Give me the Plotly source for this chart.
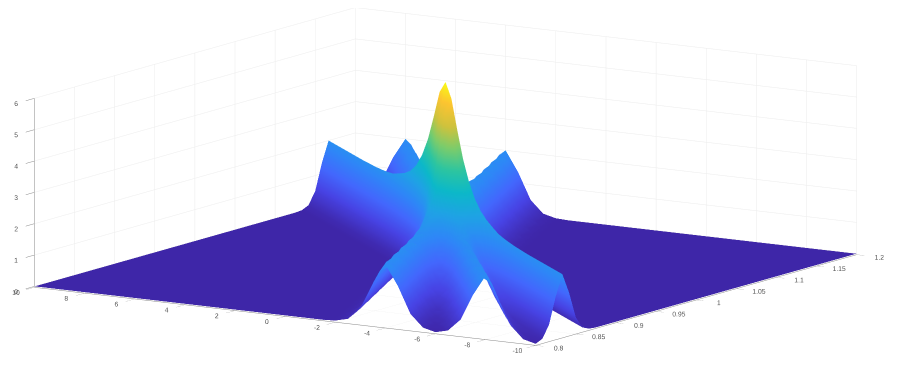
import plotly.graph_objects as go

x_values = [10 - i * 0.5 for i in range(41)]
y_steps = list(range(-24, 25))
y_values = [1 + k / 120 for k in y_steps]

x_ticks = [-10, -8, -6, -4, -2, 0, 2, 4, 6, 8, 10]
y_ticks = [0.8, 0.85, 0.9, 0.95, 1, 1.05, 1.1, 1.15, 1.2]
y_tick_text = ["0.8", "0.85", "0.9", "0.95", "1", "1.05", "1.1", "1.15", "1.2"]
z_ticks = [0, 1, 2, 3, 4, 5, 6]

# heights, one list per y row (x from -10 to 10)
row_00 = [0]*16 + [.06, .36, 1.53, 4.05, 6.00, 4.05, 1.53, .36, .06] + [0]*16
row_00h = [0]*16 + [.01, .13, .70, 2.27, 4.93, 5.58, 3.11, 1.09, .23, .03] + [0]*15
row_01 = [0]*17 + [.05, .32, 1.21, 3.20, 5.17, 4.69, 2.44, .81, .17, .02] + [0]*14
row_01h = [0]*17 + [.02, .14, .65, 1.98, 3.86, 4.70, 3.86, 1.98, .65, .14, .02] + [0]*13
row_02 = [0]*17 + [.01, .07, .39, 1.27, 2.77, 3.85, 4.00, 3.25, 1.74, .58, .13, .02] + [0]*12
row_02h = [0]*18 + [.04, .24, .81, 2.04, 3.05, 3.44, 3.37, 2.81, 1.59, .55, .12, .02] + [0]*11
row_03 = [0]*18 + [.02, .12, .53, 1.47, 2.53, 2.82, 3.02, 2.82, 2.53, 1.47, .53, .12, .02] + [0]*10
row_03h = [0]*18 + [.01, .07, .35, 1.06, 2.14, 2.43, 2.53, 2.65, 2.41, 2.35, 1.42, .52, .12, .02] + [0]*9
row_04 = [0]*19 + [.04, .23, .75, 1.74, 2.26, 2.06, 2.38, 2.25, 2.10, 2.23, 1.39, .51, .12, .02] + [0]*8
row_04h = [0]*19 + [.02, .12, .51, 1.37, 2.12, 1.86, 1.88, 2.24, 1.88, 1.86, 2.12, 1.37, .51, .12, .02] + [0]*7
row_05 = [0]*19 + [.01, .07, .35, 1.02, 1.95, 1.90, 1.48, 1.92, 2.07, 1.53, 1.70, 2.07, 1.36, .51, .12, .02] + [0]*6
row_05h = [0]*20 + [.04, .23, .74, 1.68, 1.98, 1.37, 1.37, 2.00, 1.80, 1.25, 1.58, 2.04, 1.35, .51, .12, .02] + [0]*5
row_06 = [0]*20 + [.02, .12, .51, 1.35, 2.02, 1.47, 1.02, 1.47, 2.04, 1.47, 1.02, 1.47, 2.02, 1.35, .51, .12, .02] + [0]*4
row_06h = [0]*20 + [.01, .07, .35, 1.02, 1.91, 1.71, .97, .97, 1.71, 1.93, 1.14, .86, 1.42, 2.01, 1.35, .51, .12, .02] + [0]*3
row_07 = [0]*21 + [.04, .23, .74, 1.67, 1.92, 1.09, .70, 1.09, 1.92, 1.69, .86, .74, 1.39, 2.00, 1.35, .51, .12, .02] + [0]*2
row_07h = [0]*21 + [.02, .12, .51, 1.35, 2.00, 1.37, .63, .63, 1.37, 2.00, 1.37, .63, .63, 1.37, 2.00, 1.35, .51, .12, .02] + [0]*1
row_08 = [0]*21 + [.01, .07, .35, 1.02, 1.91, 1.67, .78, .46, .78, 1.67, 1.91, 1.04, .47, .58, 1.36, 2.00, 1.35, .51, .12, .02]
row_08h = [0]*22 + [.04, .23, .74, 1.67, 1.91, 1.03, .42, .42, 1.03, 1.91, 1.67, .76, .35, .55, 1.35, 2.00, 1.35, .51, .12]
row_09 = [0]*22 + [.02, .12, .51, 1.35, 2.00, 1.35, .53, .24, .53, 1.35, 2.00, 1.35, .53, .24, .53, 1.35, 2.00, 1.35, .51]
row_09h = [0]*22 + [.01, .07, .35, 1.02, 1.91, 1.67, .74, .27, .27, .74, 1.67, 1.91, 1.02, .37, .19, .52, 1.35, 2.00, 1.35]
row_10 = [0]*23 + [.04, .23, .74, 1.67, 1.91, 1.02, .36, .14, .36, 1.02, 1.91, 1.67, .74, .25, .16, .51, 1.35, 2.00]
row_10h = [0]*23 + [.02, .12, .51, 1.35, 2.00, 1.35, .51, .14, .14, .51, 1.35, 2.00, 1.35, .51, .14, .14, .51, 1.35]
row_11 = [0]*23 + [.01, .07, .35, 1.02, 1.91, 1.67, .74, .23, .08, .23, .74, 1.67, 1.91, 1.02, .35, .09, .13, .51]
row_11h = [0]*24 + [.04, .23, .74, 1.67, 1.91, 1.02, .35, .08, .08, .35, 1.02, 1.91, 1.67, .74, .23, .06, .12]
row_12 = [0]*24 + [.02, .12, .51, 1.35, 2.00, 1.35, .51, .12, .02, .12, .51, 1.35, 2.00, 1.35, .51, .12, .02]

upper_rows = [row_00h, row_01, row_01h, row_02, row_02h, row_03, row_03h, row_04, row_04h, row_05, row_05h,
              row_06, row_06h, row_07, row_07h, row_08, row_08h, row_09, row_09h, row_10, row_10h, row_11, row_11h, row_12]
# the picture is point-symmetric about its central peak
z_rows = [r[::-1] for r in upper_rows[::-1]] + [row_00] + upper_rows
z_rows = [r[::-1] for r in z_rows]  # x runs from 10 down to -10
assert all(len(r) == 41 for r in z_rows) and len(z_rows) == 49

parula = [
    [0.00, "#3e26a8"], [0.10, "#4743e4"], [0.20, "#4367fd"], [0.30, "#2e87f7"],
    [0.40, "#1fa2e5"], [0.50, "#0cb8c9"], [0.60, "#2dc5a0"], [0.70, "#7ccc6b"],
    [0.80, "#cec23d"], [0.90, "#fcc431"], [1.00, "#f9fb15"],
]

# A triangle mesh over the grid, split along the direction the ridges run in
nx, ny = len(x_values), len(y_values)
vx, vy, vz = [], [], []
for r, yv in enumerate(y_values):
    for c, xv in enumerate(x_values):
        vx.append(xv)
        vy.append(yv)
        vz.append(z_rows[r][c])
ti, tj, tk = [], [], []
for r in range(ny - 1):
    for c in range(nx - 1):
        a = r * nx + c            # (x, y)
        b = r * nx + c + 1        # (x-dx, y)
        d = (r + 1) * nx + c      # (x, y+dy)
        e = (r + 1) * nx + c + 1  # (x-dx, y+dy)
        # diagonal d-b joins (x, y+dy) to (x-dx, y): x and y rise together
        ti += [a, e]
        tj += [b, d]
        tk += [d, b]

fig = go.Figure(go.Mesh3d(
    x=vx, y=vy, z=vz, i=ti, j=tj, k=tk,
    intensity=vz, colorscale=parula, cmin=0, cmax=6, showscale=False,
    flatshading=False,
    lighting=dict(ambient=1, diffuse=0, specular=0, fresnel=0, roughness=1),
    hoverinfo="skip",
))

def axis(ticklen=14, **kw):
    return dict(
        showbackground=False, showgrid=True, gridcolor="#ececec", gridwidth=1,
        showline=True, linecolor="#888888", linewidth=1, zeroline=False,
        ticks="outside", ticklen=ticklen, tickcolor="#888888", showspikes=False,
        tickangle=0,
        tickfont=dict(family="Liberation Sans", size=9, color="#555555"),
        title=dict(text=""), **kw,
    )

offset = (0.0591, 0.0172, -0.0925)
fig.update_layout(
    width=897, height=372, margin=dict(l=0, r=0, t=0, b=0),
    paper_bgcolor="white",
    scene=dict(
        domain=dict(x=[0, 1], y=[0, 1]),
        xaxis=axis(ticklen=9, range=[10, -10], tickvals=x_ticks, ticktext=[str(t) for t in x_ticks]),
        yaxis=axis(ticklen=16, range=[0.8, 1.2], tickvals=y_ticks, ticktext=y_tick_text),
        zaxis=axis(ticklen=18, range=[-0.03, 6], tickvals=z_ticks, ticktext=[str(t) for t in z_ticks]),
        aspectmode="manual", aspectratio=dict(x=3.2, y=3.2, z=1.033),
        camera=dict(
            projection=dict(type="orthographic"),
            eye=dict(x=2.65 + offset[0], y=-4.14 + offset[1], z=0.905 + offset[2]),
            center=dict(x=offset[0], y=offset[1], z=offset[2]), up=dict(x=0, y=0, z=1),
        ),
    ),
)
fig.write_html("out.html")
